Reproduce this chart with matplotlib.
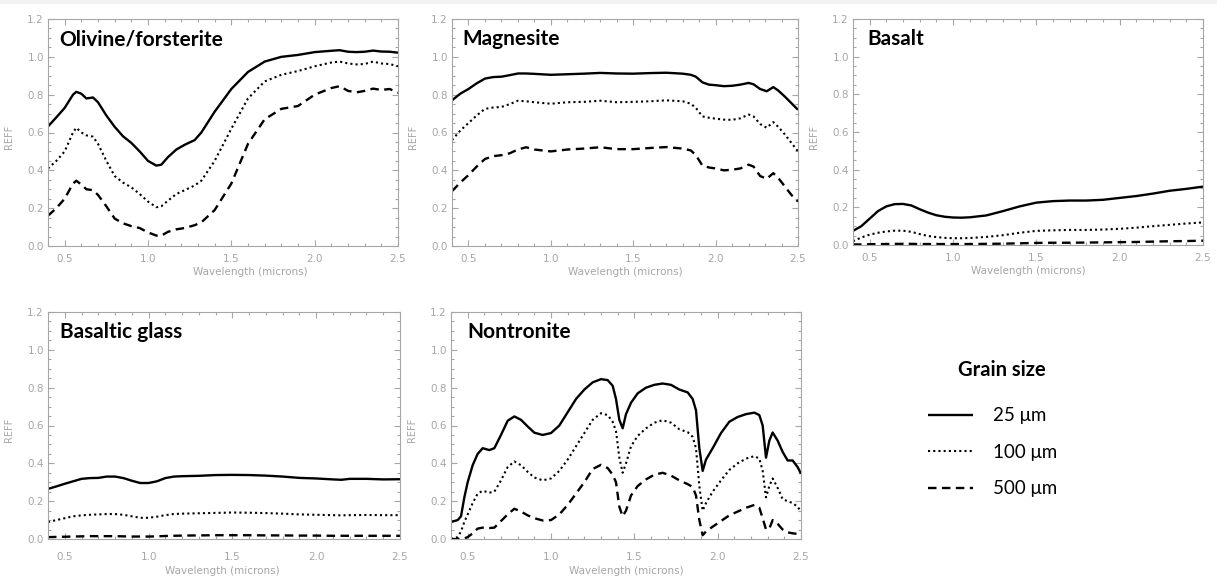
import matplotlib
matplotlib.use("Agg")
import matplotlib.pyplot as plt
from matplotlib.ticker import MultipleLocator
from matplotlib.patches import Rectangle

# reflectance spectra (REFF) for three grain sizes: 25, 100 and 500 microns

# Olivine/forsterite
wl_oliv = [0.40, 0.45, 0.50, 0.55, 0.57, 0.60, 0.63, 0.67, 0.70, 0.75, 0.80, 0.85, 0.90,
           0.95, 1.00, 1.05, 1.08, 1.12, 1.17, 1.22, 1.28, 1.32, 1.40, 1.50, 1.60, 1.70,
           1.80, 1.90, 2.00, 2.10, 2.15, 2.20, 2.25, 2.30, 2.35, 2.40, 2.45, 2.50]
oliv_25 = [0.632, 0.68, 0.73, 0.80, 0.815, 0.805, 0.78, 0.785, 0.76, 0.69, 0.63, 0.58, 0.545,
           0.50, 0.45, 0.425, 0.43, 0.47, 0.51, 0.535, 0.56, 0.60, 0.71, 0.83, 0.92, 0.975,
           1.00, 1.01, 1.025, 1.032, 1.035, 1.027, 1.025, 1.027, 1.033, 1.028, 1.027, 1.022]
oliv_100 = [0.41, 0.45, 0.50, 0.60, 0.625, 0.60, 0.585, 0.578, 0.54, 0.45, 0.37, 0.335, 0.31,
            0.275, 0.235, 0.205, 0.21, 0.24, 0.275, 0.295, 0.32, 0.345, 0.45, 0.62, 0.78, 0.87,
            0.905, 0.925, 0.95, 0.97, 0.975, 0.965, 0.96, 0.962, 0.975, 0.965, 0.962, 0.95]
oliv_500 = [0.16, 0.20, 0.25, 0.33, 0.345, 0.325, 0.30, 0.295, 0.27, 0.21, 0.145, 0.12, 0.105,
            0.095, 0.072, 0.055, 0.055, 0.075, 0.088, 0.095, 0.11, 0.125, 0.19, 0.33, 0.54, 0.67,
            0.725, 0.74, 0.80, 0.835, 0.845, 0.82, 0.812, 0.82, 0.832, 0.825, 0.83, 0.81]

# Magnesite
wl_magn = [0.40, 0.45, 0.50, 0.55, 0.60, 0.65, 0.70, 0.75, 0.80, 0.85, 0.90, 1.00, 1.10,
           1.20, 1.30, 1.40, 1.50, 1.60, 1.70, 1.80, 1.85, 1.88, 1.92, 1.96, 2.00, 2.05,
           2.10, 2.15, 2.20, 2.23, 2.27, 2.31, 2.35, 2.38, 2.42, 2.46, 2.50]
magn_25 = [0.77, 0.805, 0.83, 0.86, 0.885, 0.893, 0.895, 0.903, 0.912, 0.912, 0.91, 0.905, 0.908,
           0.911, 0.915, 0.912, 0.911, 0.914, 0.916, 0.911, 0.905, 0.895, 0.865, 0.853, 0.85, 0.845,
           0.847, 0.853, 0.862, 0.855, 0.83, 0.818, 0.84, 0.822, 0.79, 0.755, 0.72]
magn_100 = [0.56, 0.61, 0.65, 0.69, 0.725, 0.732, 0.735, 0.75, 0.768, 0.765, 0.76, 0.752, 0.76,
            0.762, 0.768, 0.76, 0.762, 0.765, 0.77, 0.765, 0.752, 0.73, 0.685, 0.678, 0.673, 0.668,
            0.667, 0.675, 0.695, 0.685, 0.645, 0.625, 0.655, 0.63, 0.59, 0.545, 0.50]
magn_500 = [0.29, 0.335, 0.375, 0.42, 0.46, 0.475, 0.48, 0.49, 0.51, 0.522, 0.51, 0.50, 0.51,
            0.515, 0.522, 0.512, 0.512, 0.518, 0.523, 0.515, 0.505, 0.48, 0.425, 0.415, 0.41, 0.40,
            0.403, 0.41, 0.43, 0.42, 0.37, 0.355, 0.385, 0.36, 0.315, 0.27, 0.235]

# Basalt
wl_bas = [0.40, 0.45, 0.50, 0.55, 0.60, 0.65, 0.70, 0.75, 0.80, 0.85, 0.90, 0.95, 1.00, 1.05,
          1.10, 1.20, 1.30, 1.40, 1.50, 1.60, 1.70, 1.80, 1.90, 2.00, 2.10, 2.20, 2.30, 2.40, 2.50]
bas_25 = [0.075, 0.10, 0.14, 0.18, 0.205, 0.217, 0.218, 0.21, 0.19, 0.172, 0.158, 0.15, 0.146, 0.145,
          0.147, 0.157, 0.18, 0.205, 0.225, 0.233, 0.236, 0.236, 0.24, 0.25, 0.26, 0.273, 0.288, 0.298, 0.31]
bas_100 = [0.02, 0.04, 0.055, 0.065, 0.072, 0.076, 0.076, 0.07, 0.058, 0.048, 0.042, 0.038, 0.036, 0.036,
           0.037, 0.043, 0.052, 0.065, 0.075, 0.078, 0.08, 0.08, 0.082, 0.086, 0.092, 0.10, 0.107, 0.114, 0.12]
bas_500 = [0.003, 0.003, 0.004, 0.005, 0.005, 0.006, 0.006, 0.006, 0.005, 0.005, 0.005, 0.005, 0.005, 0.005,
           0.005, 0.006, 0.007, 0.009, 0.011, 0.012, 0.012, 0.013, 0.014, 0.015, 0.016, 0.018, 0.02, 0.021, 0.023]

# Basaltic glass
wl_glass = [0.40, 0.45, 0.50, 0.55, 0.60, 0.65, 0.70, 0.75, 0.80, 0.85, 0.90, 0.95, 1.00, 1.05,
            1.10, 1.15, 1.20, 1.30, 1.40, 1.50, 1.60, 1.70, 1.80, 1.90, 2.00, 2.10, 2.15, 2.20,
            2.30, 2.40, 2.50]
glass_25 = [0.265, 0.278, 0.292, 0.305, 0.318, 0.322, 0.323, 0.33, 0.33, 0.322, 0.308, 0.296, 0.296, 0.305,
            0.322, 0.33, 0.332, 0.334, 0.338, 0.339, 0.338, 0.335, 0.33, 0.323, 0.32, 0.315, 0.313, 0.318,
            0.318, 0.315, 0.316]
glass_100 = [0.09, 0.10, 0.11, 0.12, 0.125, 0.128, 0.13, 0.132, 0.132, 0.128, 0.12, 0.112, 0.112, 0.118,
             0.126, 0.132, 0.134, 0.136, 0.138, 0.14, 0.139, 0.137, 0.134, 0.13, 0.128, 0.126, 0.125, 0.126,
             0.127, 0.126, 0.126]
glass_500 = [0.010, 0.011, 0.012, 0.013, 0.014, 0.015, 0.015, 0.015, 0.015, 0.014, 0.013, 0.013, 0.013, 0.014,
             0.016, 0.017, 0.018, 0.019, 0.02, 0.02, 0.02, 0.019, 0.019, 0.018, 0.018, 0.017, 0.017, 0.017,
             0.017, 0.017, 0.017]

# Nontronite
wl_nont = [0.40, 0.44, 0.46, 0.48, 0.50, 0.53, 0.56, 0.59, 0.63, 0.66, 0.70, 0.74, 0.78, 0.82,
           0.86, 0.90, 0.95, 1.00, 1.05, 1.10, 1.15, 1.20, 1.25, 1.30, 1.34, 1.37, 1.39, 1.41,
           1.43, 1.45, 1.48, 1.52, 1.57, 1.62, 1.67, 1.72, 1.77, 1.82, 1.85, 1.87, 1.89, 1.91,
           1.93, 1.97, 2.02, 2.07, 2.12, 2.17, 2.22, 2.25, 2.27, 2.29, 2.31, 2.33, 2.36, 2.39,
           2.42, 2.45, 2.48, 2.50]
nont_25 = [0.09, 0.10, 0.12, 0.22, 0.30, 0.39, 0.45, 0.48, 0.47, 0.48, 0.55, 0.625, 0.648, 0.63,
           0.595, 0.562, 0.55, 0.56, 0.60, 0.67, 0.74, 0.79, 0.828, 0.845, 0.84, 0.81, 0.74, 0.63,
           0.585, 0.66, 0.72, 0.77, 0.80, 0.815, 0.822, 0.815, 0.79, 0.775, 0.74, 0.68, 0.48, 0.36,
           0.42, 0.48, 0.56, 0.62, 0.645, 0.66, 0.668, 0.655, 0.60, 0.43, 0.52, 0.563, 0.52, 0.46,
           0.415, 0.415, 0.38, 0.345]
nont_100 = [0.0, 0.01, 0.04, 0.09, 0.13, 0.19, 0.24, 0.255, 0.245, 0.25, 0.31, 0.38, 0.41, 0.39,
            0.355, 0.325, 0.31, 0.32, 0.36, 0.42, 0.49, 0.56, 0.63, 0.665, 0.655, 0.62, 0.57, 0.43,
            0.35, 0.40, 0.49, 0.545, 0.585, 0.615, 0.628, 0.615, 0.58, 0.565, 0.54, 0.48, 0.28, 0.15,
            0.19, 0.25, 0.31, 0.365, 0.40, 0.425, 0.438, 0.425, 0.36, 0.22, 0.28, 0.32, 0.27, 0.21,
            0.20, 0.19, 0.17, 0.145]
nont_500 = [0.0, 0.0, 0.0, 0.003, 0.01, 0.03, 0.055, 0.06, 0.058, 0.06, 0.095, 0.13, 0.16, 0.145,
            0.125, 0.11, 0.098, 0.10, 0.13, 0.18, 0.24, 0.30, 0.37, 0.392, 0.375, 0.34, 0.30, 0.17,
            0.12, 0.15, 0.23, 0.28, 0.315, 0.34, 0.35, 0.335, 0.31, 0.29, 0.275, 0.23, 0.10, 0.02,
            0.04, 0.065, 0.095, 0.125, 0.145, 0.165, 0.18, 0.165, 0.11, 0.05, 0.055, 0.10, 0.08, 0.05,
            0.035, 0.03, 0.027, 0.025]

grain_labels = ["25 \u03bcm", "100 \u03bcm", "500 \u03bcm"]

W, H = 1227, 578

# name, wavelengths, spectra, axes box in pixels (left, top, right, bottom), title x offset, xlabel centre
panels = [
    ("Olivine/forsterite", wl_oliv, [oliv_25, oliv_100, oliv_500], (48, 19, 398, 246), 11, 0.577),
    ("Magnesite", wl_magn, [magn_25, magn_100, magn_500], (452, 19, 798, 246), 10, 0.5),
    ("Basalt", wl_bas, [bas_25, bas_100, bas_500], (853, 19, 1203, 245), 14, 0.5),
    ("Basaltic glass", wl_glass, [glass_25, glass_100, glass_500], (48, 312, 400, 539), 12, 0.494),
    ("Nontronite", wl_nont, [nont_25, nont_100, nont_500], (451, 312, 801, 539), 16, 0.5),
]

styles = [
    dict(linestyle="-", linewidth=1.7),
    dict(linestyle=(0, (1, 1.5)), linewidth=1.5),
    dict(linestyle=(0, (3.6, 2.3)), linewidth=1.7),
]

grey = "#a6a6a6"
fig = plt.figure(figsize=(W / 100, H / 100), dpi=100)

# thin grey strip along the top edge
fig.add_artist(Rectangle((0, 1 - 4 / H), 1217 / W, 4 / H, transform=fig.transFigure,
                         facecolor="#f2f2f2", edgecolor="none"))

handles = None
for name, wl, spectra, (l, t, r, b), tx, xlab in panels:
    ax = fig.add_axes([l / W, 1 - b / H, (r - l) / W, (b - t) / H])
    lines = []
    for refl, st in zip(spectra, styles):
        ln, = ax.plot(wl, refl, color="black", solid_capstyle="butt", dash_capstyle="butt", **st)
        lines.append(ln)
    if handles is None:
        handles = lines

    ax.set_xlim(0.4, 2.5)
    ax.set_ylim(0, 1.2)
    ax.xaxis.set_major_locator(MultipleLocator(0.5))
    ax.xaxis.set_minor_locator(MultipleLocator(0.1))
    ax.yaxis.set_major_locator(MultipleLocator(0.2))
    ax.yaxis.set_minor_locator(MultipleLocator(0.05))
    ax.tick_params(which="both", direction="in", top=True, right=True, color=grey,
                   labelcolor=grey, labelsize=7.5, width=0.8)
    ax.tick_params(which="major", length=4.5)
    ax.tick_params(which="minor", length=2.5)
    ax.tick_params(axis="y", pad=3)
    ax.tick_params(axis="x", pad=6 if t < 100 else 9)
    for sp in ax.spines.values():
        sp.set_color(grey)
        sp.set_linewidth(0.8)

    ax.set_xlabel("Wavelength (microns)", fontsize=7.5, color=grey)
    ax.xaxis.set_label_coords(xlab, -(21 if t < 100 else 27) / (b - t))
    ax.set_ylabel("REFF", fontsize=7, color=grey)
    ax.yaxis.set_label_coords(-34 / (r - l), 0.48)

    ax.text(tx / (r - l), 1 - 20 / (b - t), name, transform=ax.transAxes, ha="left", va="center",
            fontsize=15, fontweight="bold", family="Lato", color="black")

# grain size key
fig.text(1002 / W, 1 - 370 / H, "Grain size", ha="center", va="center",
         fontsize=14.5, fontweight="bold", family="Lato")
fig.legend(handles, grain_labels, loc="upper left", bbox_to_anchor=(919 / W, 1 - 398 / H),
           frameon=False, borderpad=0, handlelength=2.4, handletextpad=1.07,
           labelspacing=1.04, prop={"family": "Lato", "size": 13.5})

fig.savefig("out.png", dpi=100, facecolor="white")
